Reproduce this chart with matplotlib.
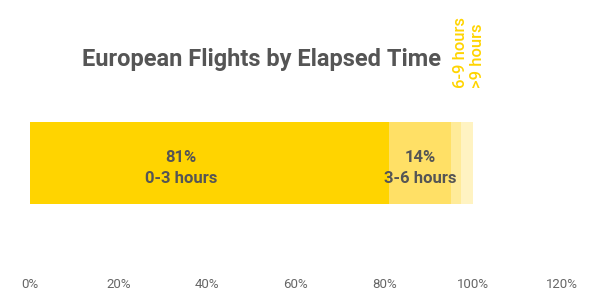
import matplotlib
matplotlib.use('Agg')
import matplotlib.pyplot as plt

# ── data ──────────────────────────────────────────────────────────────────────
categories = ['0-3 hours', '3-6 hours', '6-9 hours', '>9 hours']
shares     = [81, 14, 2.3, 2.7]
colors     = ['#FFD400', '#FFE066', '#FFEB99', '#FFF3C2']
xticks     = [0, 20, 40, 60, 80, 100, 120]

TEXT = '#555555'
YEL  = '#FFD400'
plt.rcParams['font.family'] = ['Roboto', 'DejaVu Sans']

fig = plt.figure(figsize=(6, 3.04), dpi=100)
ax = fig.add_axes([0.05, 34 / 304, 532 / 600, 230 / 304])
ax.set_xlim(0, 120)
ax.set_ylim(0, 1)

BAR_Y, BAR_H = 0.465, 0.357
left = 0
lefts = []
for val, col in zip(shares, colors):
    ax.barh(BAR_Y, val, left=left, height=BAR_H, color=col, edgecolor='none')
    lefts.append(left)
    left += val

# in-bar labels for the two large segments
label_frac = [0.42, 0.5]
for i in range(2):
    x = lefts[i] + shares[i] * label_frac[i]
    ax.text(x, BAR_Y - 0.022, f'{shares[i]:.0f}%\n{categories[i]}', ha='center', va='center',
            fontsize=12, fontweight='bold', color=TEXT, linespacing=1.5)

# rotated labels above the small segments
for i, dx in zip((2, 3), (0.9, 2.4)):
    ax.text(lefts[i] + shares[i] / 2 + dx, 0.79, categories[i], rotation=90,
            ha='center', va='bottom', fontsize=12, fontweight='medium', color=YEL)

ax.text(0.435, 0.915, 'European Flights by Elapsed Time', transform=ax.transAxes,
        ha='center', va='center', fontsize=17, fontweight='bold', color=TEXT)

ax.set_xticks(xticks)
ax.set_xticklabels([f'{t}%' for t in xticks])
ax.tick_params(axis='x', length=0, pad=6, labelsize=9.5, labelcolor='#666666')
ax.set_yticks([])
for s in ax.spines.values():
    s.set_visible(False)

fig.savefig('out.png', dpi=100, facecolor='white')
